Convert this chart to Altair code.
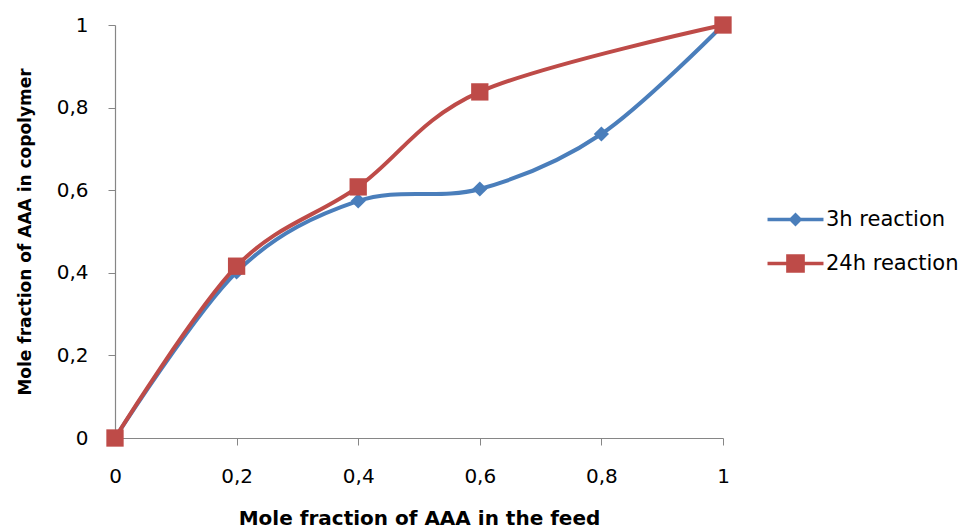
import altair as alt
import pandas as pd

series_names = ["3h reaction", "24h reaction"]
x_3h = [0, 0.2, 0.4, 0.6, 0.8, 1.0]
y_3h = [0, 0.402, 0.574, 0.603, 0.736, 1.0]
x_24h = [0, 0.2, 0.4, 0.6, 1.0]
y_24h = [0, 0.416, 0.608, 0.838, 1.0]
tick_values = [0, 0.2, 0.4, 0.6, 0.8, 1.0]
colors = ["#4A7EBB", "#BE4B48"]

rows = [{"x": a, "y": b, "series": series_names[0]} for a, b in zip(x_3h, y_3h)]
rows += [{"x": a, "y": b, "series": series_names[1]} for a, b in zip(x_24h, y_24h)]
df = pd.DataFrame(rows)

FONT = "DejaVu Sans"
label_expr = "replace(format(datum.value, '~g'), '.', ',')"

xenc = alt.X("x:Q", scale=alt.Scale(domain=[0, 1], nice=False, zero=False),
             axis=alt.Axis(values=tick_values, labelExpr=label_expr, labelFlush=False,
                           title="Mole fraction of AAA in the feed", titleFontSize=20,
                           labelPadding=21, titlePadding=22))
yenc = alt.Y("y:Q", scale=alt.Scale(domain=[0, 1], nice=False),
             axis=alt.Axis(values=tick_values, labelExpr=label_expr, labelFlush=False,
                           title="Mole fraction of AAA in copolymer", titleFontSize=17,
                           labelPadding=20, titlePadding=22))

legend_paths = [
    "M-3,-0.2L3,-0.2L3,0.2L-3,0.2Z M-0.75,0L0,-0.75L0.75,0L0,0.75Z",
    "M-3,-0.2L3,-0.2L3,0.2L-3,0.2Z M-1,-1L1,-1L1,1L-1,1Z",
]

# legend-only layer: no rows reach the plot, the legend comes from the scale domain
legend_layer = alt.Chart(df).transform_filter("datum.x > 5").mark_point(
    filled=True, opacity=1, size=348
).encode(
    x=xenc, y=yenc,
    color=alt.Color("series:N", scale=alt.Scale(domain=series_names, range=colors),
                    legend=alt.Legend(title=None, orient="none", legendX=670, legendY=184,
                                      symbolOpacity=1, symbolSize=348, labelOffset=20,
                                      rowPadding=21, labelFontSize=21, labelFont=FONT,
                                      labelColor="#000000")),
    shape=alt.Shape("series:N", scale=alt.Scale(domain=series_names, range=legend_paths)),
)
layers = [legend_layer]
for name, col, shp, sz in zip(series_names, colors, ["diamond", "square"], [230, 300]):
    base = alt.Chart(df).transform_filter(alt.datum.series == name)
    layers.append(base.mark_line(interpolate="cardinal", tension=0, strokeWidth=4, color=col)
                  .encode(x=xenc, y=yenc))
    layers.append(base.mark_point(shape=shp, filled=True, size=sz, opacity=1, color=col)
                  .encode(x=xenc, y=yenc))

chart = alt.layer(*layers).properties(
    width=608, height=413,
    autosize=alt.AutoSizeParams(type="none"),
    padding={"left": 115, "top": 25, "right": 240, "bottom": 90},
    background="white",
).configure_view(stroke=None).configure_axis(
    grid=False, domainColor="#868686", tickColor="#868686", tickSize=7, domainWidth=1.2,
    labelFont=FONT, labelFontSize=20, labelColor="#000000",
    titleFont=FONT, titleFontWeight="bold", titleColor="#000000",
)

chart.save("out.html", embed_options={"renderer": "svg", "actions": False})
